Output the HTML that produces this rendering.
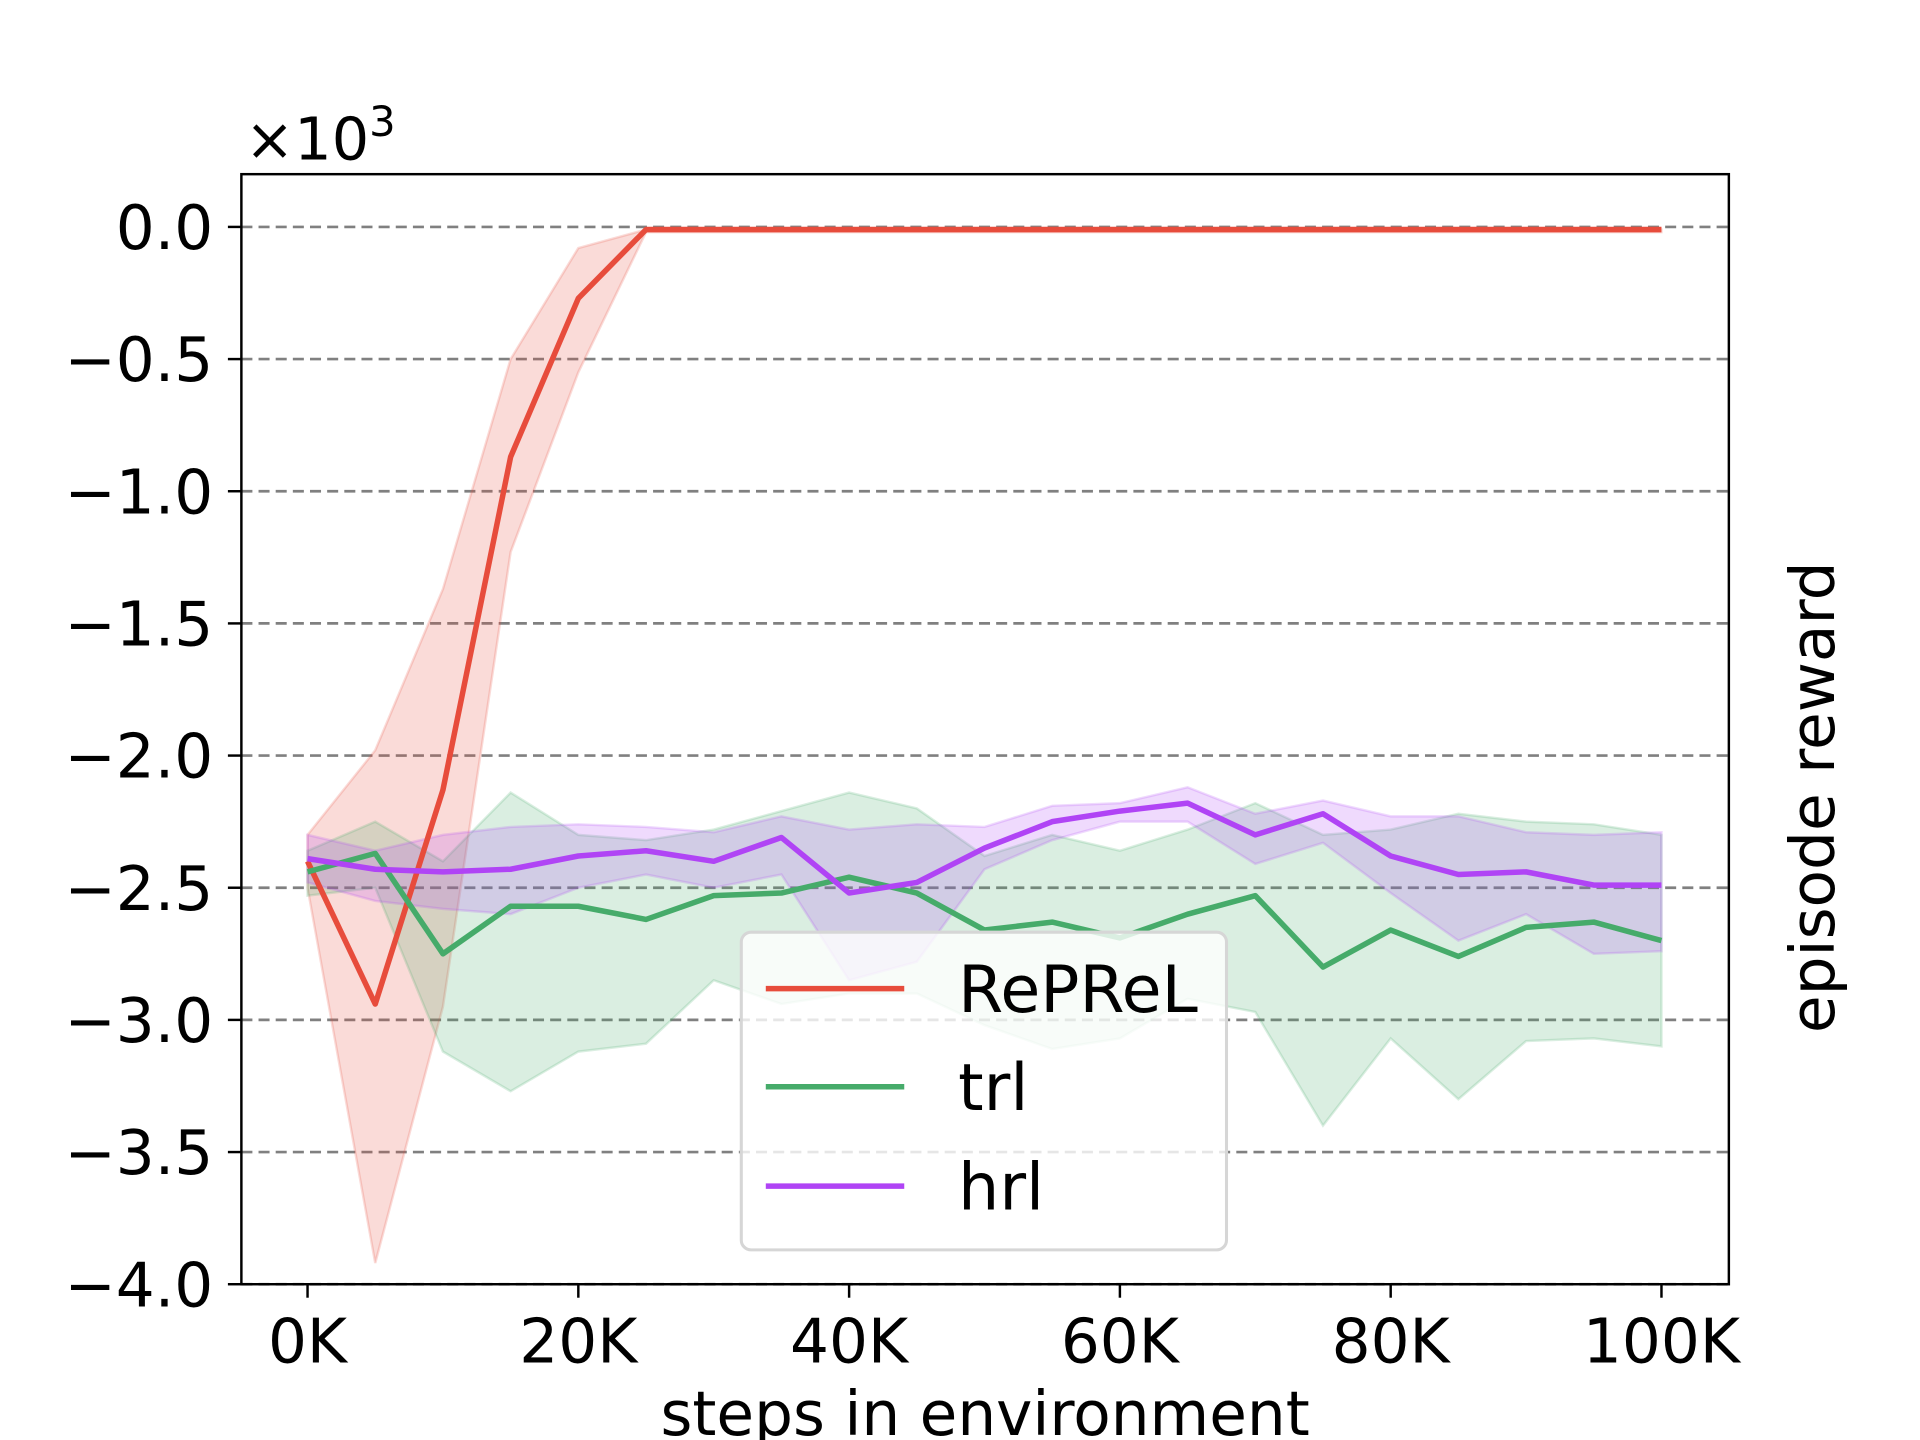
<!DOCTYPE html>
<html><head><meta charset="utf-8"><style>
html,body{margin:0;padding:0;background:#fff}
svg{display:block}
text{font-family:"DejaVu Sans","Liberation Sans",sans-serif;fill:#000}
</style></head><body>
<svg id="chart" width="1920" height="1440" viewBox="0 0 1567 1174" preserveAspectRatio="none" xmlns="http://www.w3.org/2000/svg">
<g id="grid"></g>
<g id="bands"></g>
<g id="lines"></g>
<rect x="197" y="142" width="1214" height="905" fill="none" stroke="#000" stroke-width="2"/>
<g id="yticks"></g>
<g id="xticks"></g>
<text x="200" y="130" font-size="48">×10<tspan dy="-19" font-size="34">3</tspan></text>
<text x="804" y="1170" font-size="50" text-anchor="middle">steps in environment</text>
<text transform="translate(1497,650) rotate(-90)" font-size="50" text-anchor="middle">episode reward</text>
<g>
<rect x="605" y="760" width="396" height="259" rx="8" fill="#fff" fill-opacity="0.8" stroke="#d6d6d6" stroke-width="2.5"/>
<line x1="625" x2="738" y1="806" y2="806" stroke="#e74c3c" stroke-width="4.5"/>
<text x="782" y="825" font-size="53">RePReL</text>
<line x1="625" x2="738" y1="886" y2="886" stroke="#46ab6a" stroke-width="4.5"/>
<text x="782" y="905" font-size="53">trl</text>
<line x1="625" x2="738" y1="967" y2="967" stroke="#b044f5" stroke-width="4.5"/>
<text x="782" y="986" font-size="53">hrl</text>
</g>
</svg>
<script>
const steps=[0,5,10,15,20,25,30,35,40,45,50,55,60,65,70,75,80,85,90,95,100];
const yTicks=[0,-0.5,-1,-1.5,-2,-2.5,-3,-3.5,-4];
const yTickLabels=["0.0","\u22120.5","\u22121.0","\u22121.5","\u22122.0","\u22122.5","\u22123.0","\u22123.5","\u22124.0"];
const xTicks=[0,20,40,60,80,100];
const xTickLabels=["0K","20K","40K","60K","80K","100K"];
const reprelMean=[-2.40,-2.94,-2.13,-0.87,-0.27,-0.01,-0.01,-0.01,-0.01,-0.01,-0.01,-0.01,-0.01,-0.01,-0.01,-0.01,-0.01,-0.01,-0.01,-0.01,-0.01];
const reprelUpper=[-2.30,-1.98,-1.37,-0.50,-0.08,-0.01,-0.01,-0.01,-0.01,-0.01,-0.01,-0.01,-0.01,-0.01,-0.01,-0.01,-0.01,-0.01,-0.01,-0.01,-0.01];
const reprelLower=[-2.50,-3.92,-2.95,-1.23,-0.55,-0.02,-0.02,-0.02,-0.02,-0.02,-0.02,-0.02,-0.02,-0.02,-0.02,-0.02,-0.02,-0.02,-0.02,-0.02,-0.02];
const trlMean=[-2.44,-2.37,-2.75,-2.57,-2.57,-2.62,-2.53,-2.52,-2.46,-2.52,-2.66,-2.63,-2.69,-2.60,-2.53,-2.80,-2.66,-2.76,-2.65,-2.63,-2.70];
const trlUpper=[-2.36,-2.25,-2.40,-2.14,-2.30,-2.32,-2.28,-2.21,-2.14,-2.20,-2.38,-2.30,-2.36,-2.28,-2.18,-2.30,-2.28,-2.22,-2.25,-2.26,-2.30];
const trlLower=[-2.53,-2.50,-3.12,-3.27,-3.12,-3.09,-2.85,-2.94,-2.90,-2.90,-3.02,-3.11,-3.07,-2.92,-2.97,-3.40,-3.07,-3.30,-3.08,-3.07,-3.10];
const hrlMean=[-2.39,-2.43,-2.44,-2.43,-2.38,-2.36,-2.40,-2.31,-2.52,-2.48,-2.35,-2.25,-2.21,-2.18,-2.30,-2.22,-2.38,-2.45,-2.44,-2.49,-2.49];
const hrlUpper=[-2.30,-2.36,-2.30,-2.27,-2.26,-2.27,-2.29,-2.23,-2.28,-2.26,-2.27,-2.19,-2.18,-2.12,-2.22,-2.17,-2.23,-2.23,-2.29,-2.30,-2.29];
const hrlLower=[-2.48,-2.55,-2.58,-2.60,-2.50,-2.45,-2.50,-2.45,-2.85,-2.78,-2.43,-2.32,-2.25,-2.25,-2.41,-2.33,-2.52,-2.70,-2.60,-2.75,-2.74];

const NS="http://www.w3.org/2000/svg";
const X=k=>251+(1356-251)*k/100;
const Y=v=>185+(1047-185)*(-v)/4;
function mk(tag,attrs,parent){const e=document.createElementNS(NS,tag);for(const k in attrs)e.setAttribute(k,attrs[k]);parent.appendChild(e);return e;}
const grid=document.getElementById('grid'),yt=document.getElementById('yticks'),xt=document.getElementById('xticks');
yTicks.forEach((v,i)=>{
  const g=mk('line',{x1:197,x2:1411,y1:Y(v),y2:Y(v),stroke:'#808080','stroke-width':2.2,'stroke-dasharray':'9,5'},grid);
  
  
  mk('line',{x1:186,x2:197,y1:Y(v),y2:Y(v),stroke:'#000','stroke-width':2},yt);
  const t=mk('text',{x:174,y:Y(v)+18,'font-size':50,'text-anchor':'end'},yt);
  t.textContent=yTickLabels[i];
  
  
});
xTicks.forEach((k,i)=>{
  mk('line',{x1:X(k),x2:X(k),y1:1047,y2:1058,stroke:'#000','stroke-width':2},xt);
  const t=mk('text',{x:X(k),y:1111,'font-size':50,'text-anchor':'middle'},xt);
  t.textContent=xTickLabels[i];
  
  
});
const bands=document.getElementById('bands'),lines=document.getElementById('lines');
function band(up,lo,color,name){
  let p=steps.map((s,i)=>X(s)+','+Y(up[i]));
  p=p.concat(steps.map((s,i)=>X(s)+','+Y(lo[i])).reverse());
  const e=mk('polygon',{points:p.join(' '),fill:color,'fill-opacity':0.2,stroke:color,'stroke-opacity':0.2,'stroke-width':2},bands);
  
  
}
function line(m,color,name){
  const e=mk('polyline',{points:steps.map((s,i)=>X(s)+','+Y(m[i])).join(' '),fill:'none',stroke:color,'stroke-width':4.5,'stroke-linejoin':'round'},lines);
  
  
}
band(reprelUpper,reprelLower,'#e74c3c','reprel-band');
band(trlUpper,trlLower,'#46ab6a','trl-band');
band(hrlUpper,hrlLower,'#b044f5','hrl-band');
line(reprelMean,'#e74c3c','reprel-line');
line(trlMean,'#46ab6a','trl-line');
line(hrlMean,'#b044f5','hrl-line');
</script>
</body></html>
